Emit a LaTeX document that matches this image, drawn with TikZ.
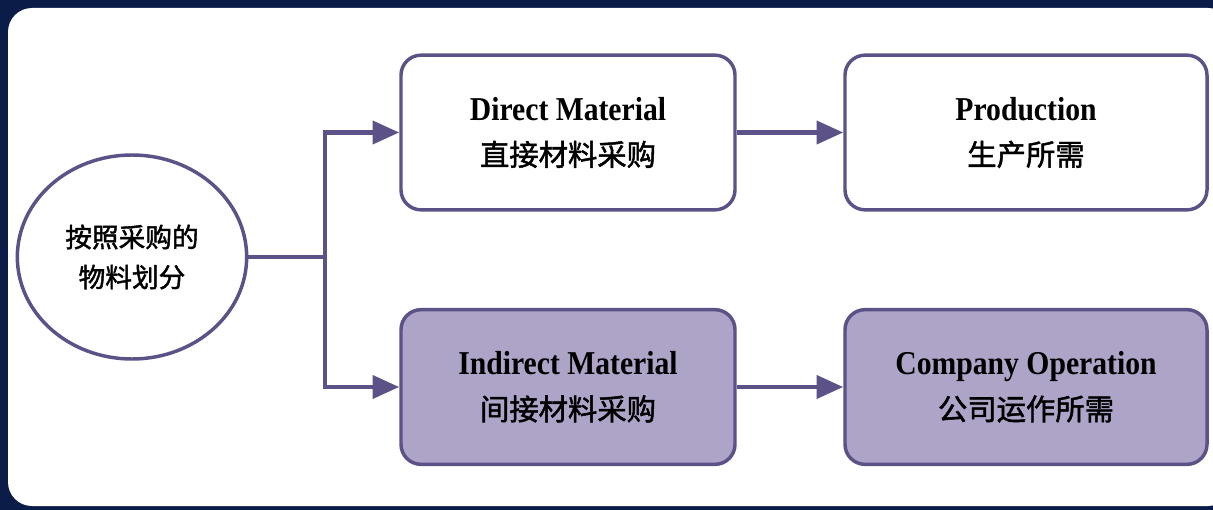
\documentclass[tikz,border=0pt]{standalone}
\usepackage{fontspec}
\usepackage{xcolor}
\usetikzlibrary{shapes.geometric,arrows.meta}
\setmainfont{Liberation Serif}
\newfontfamily\cjk[AutoFakeBold=1.6]{Noto Sans CJK SC}
\newcommand\entext[1]{\scalebox{0.89}[1]{\fontsize{25}{34}\selectfont\bfseries #1}}
\definecolor{navybg}{HTML}{0B1C48}
\definecolor{lineviolet}{HTML}{5C5288}
\definecolor{fillviolet}{HTML}{ADA4C7}

\begin{document}
\begin{tikzpicture}[x=0.75pt,y=0.75pt,yscale=-1,xscale=1,
    ovalbox/.style={draw=lineviolet, line width=2.6pt, fill=white, ellipse, minimum width=172pt, minimum height=153pt, align=center, inner sep=0pt, font={\fontsize{20}{30}\selectfont\cjk\bfseries}},
    matbox/.style={draw=lineviolet, line width=2.6pt, rounded corners=15pt, minimum height=116pt, align=center, inner sep=0pt, font={\fontsize{22}{34}\selectfont}},
    arr/.style={draw=lineviolet, line width=3.6pt, -{Triangle[length=20pt,width=17pt]}}]
        \fill[navybg] (0,0) rectangle (1213,510);
        \useasboundingbox (0,0) rectangle (1213,510);
        \clip (0,0) rectangle (1213,510);
        \fill[white, rounded corners=18pt] (8,8) rectangle (1232,506);
        
        \node[ovalbox] (crit) at (132,257) {按照采购的\\ 物料划分};
        \node[matbox, fill=white, minimum width=250.5pt] (direct) at (568,132.5) {\entext{Direct Material}\\ \cjk\bfseries 直接材料采购};
        \node[matbox, fill=white, minimum width=271.5pt] (prod) at (1026,132.5) {\entext{Production}\\ \cjk\bfseries 生产所需};
        \node[matbox, fill=fillviolet, minimum width=250.5pt] (indirect) at (568,387) {\entext{Indirect Material}\\ \cjk\bfseries 间接材料采购};
        \node[matbox, fill=fillviolet, minimum width=271.5pt] (oper) at (1026,387) {\entext{Company Operation}\\ \cjk\bfseries 公司运作所需};
        
        \coordinate (split) at (325,257);
        \draw[draw=lineviolet, line width=3.6pt] (crit.east) -- (split);
        \draw[arr] (split) |- (direct.west);
        \draw[arr] (split) |- (indirect.west);
        \draw[arr] (direct) -- (prod);
        \draw[arr] (indirect) -- (oper);
    \end{tikzpicture}
\end{document}
